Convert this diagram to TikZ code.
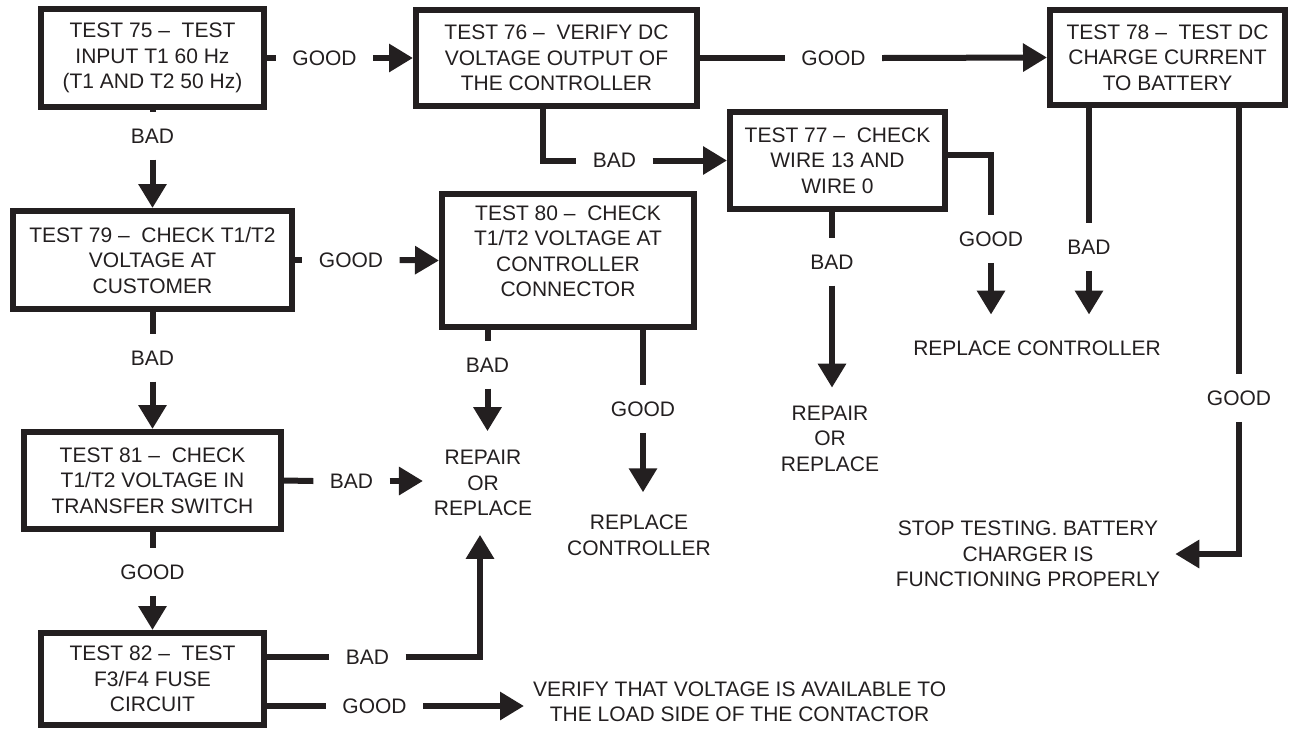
\documentclass[tikz,border=0pt]{standalone}
\usepackage{fontspec}
\setmainfont{Liberation Sans}
\usetikzlibrary{arrows.meta}
\definecolor{ink}{HTML}{231F20}
\tikzset{
  box/.style={draw, line width=6pt, align=center, inner sep=0pt},
  lbl/.style={inner sep=13.5pt},
  arr/.style={-{Triangle[length=24pt,width=27pt]}},
  every node/.style={text=ink, font=\fontsize{21}{25.5}\selectfont},
}
\begin{document}
\begin{tikzpicture}[x=1pt,y=-1pt,line width=6pt,color=ink]
\useasboundingbox (0,0) rectangle (1289,729);
\node[box,minimum width=222.5,minimum height=98] (b75) at (152.5,58) {TEST 75 –~ TEST\\INPUT T1 60 Hz\\(T1 AND T2 50 Hz)};
\node[box,minimum width=281,minimum height=96.5] (b76) at (556.5,58) {TEST 76 –~ VERIFY DC\\VOLTAGE OUTPUT OF\\THE CONTROLLER};
\node[box,minimum width=235,minimum height=95] (b78) at (1167.5,57.5) {TEST 78 –~ TEST DC\\CHARGE CURRENT\\TO BATTERY};
\node[box,minimum width=215,minimum height=97] (b77) at (837.5,160.5) {TEST 77 –~ CHECK\\WIRE 13 AND\\WIRE 0};
\node[box,minimum width=278.5,minimum height=98] (b79) at (152.5,260) {TEST 79 –~ CHECK T1/T2\\VOLTAGE AT\\CUSTOMER};
\node[box,minimum width=252,minimum height=133,text depth=19pt] (b80) at (568,260.5) {TEST 80 –~ CHECK\\T1/T2 VOLTAGE AT\\CONTROLLER\\CONNECTOR};
\node[box,minimum width=256.5,minimum height=97] (b81) at (152.5,480.5) {TEST 81 –~ CHECK\\T1/T2 VOLTAGE IN\\TRANSFER SWITCH};
\node[box,minimum width=223,minimum height=92] (b82) at (152.5,679) {TEST 82 –~ TEST\\F3/F4 FUSE\\CIRCUIT};
\node[lbl] (g1) at (324.5,58) {GOOD};
\node[lbl] (g2) at (833.5,58) {GOOD};
\node[lbl] (bad1) at (614.5,160.5) {BAD};
\node[lbl] (bad0) at (152.5,136) {BAD};
\node[lbl] (g3) at (351,260) {GOOD};
\node[lbl] (bad2) at (152.5,358) {BAD};
\node[lbl] (bad3) at (351.5,481) {BAD};
\node[lbl] (g4) at (152.5,572) {GOOD};
\node[lbl] (bad4) at (367.5,657) {BAD};
\node[lbl] (g5) at (374.5,706) {GOOD};
\node[lbl] (bad5) at (487.5,365) {BAD};
\node[lbl] (g6) at (643,409) {GOOD};
\node[lbl] (bad6) at (832,262) {BAD};
\node[lbl] (g7) at (991,239) {GOOD};
\node[lbl] (bad7) at (1089,247) {BAD};
\node[lbl] (g8) at (1239,398) {GOOD};
\node[inner xsep=8pt,inner ysep=16pt,align=center] (rep1) at (483,483) {REPAIR\\OR\\REPLACE};
\node[inner ysep=20pt,align=center] (repc1) at (639,535.5) {REPLACE\\CONTROLLER};
\node[inner ysep=15pt,align=center] (rep2) at (830,438.5) {REPAIR\\OR\\REPLACE};
\node[inner ysep=23pt] (repc2) at (1037,348) {REPLACE CONTROLLER};
\node[inner xsep=12pt,align=center] (stop) at (1028,554) {STOP TESTING. BATTERY\\CHARGER IS\\FUNCTIONING PROPERLY};
\node[inner xsep=6pt,align=center,anchor=west] (verify) at (524,702) {VERIFY THAT VOLTAGE IS AVAILABLE TO\\THE LOAD SIDE OF THE CONTACTOR};
\draw (b75.east) -- (g1.west);
\draw[arr] (g1.east) -- (b76.west);
\draw (b76.east) -- (g2.west);
\draw[arr] (g2.east) -- (b78.west);
\draw ([xshift=-13.5pt]b76.south) |- (bad1.west);
\draw[arr] (bad1.east) -- (b77.west);
\draw (b77.east) ++(0,-5.5) -| (g7.north);
\draw[arr] (g7.south) -- (g7 |- repc2.north);
\draw ([xshift=-78.5pt]b78.south) -- (bad7.north);
\draw[arr] (bad7.south) -- (bad7 |- repc2.north);
\draw ([xshift=71.5pt]b78.south) -- (g8.north);
\draw[arr] (g8.south) |- (stop.east);
\draw ([xshift=-5.5pt]b77.south) -- (bad6.north);
\draw[arr] (bad6.south) -- (bad6 |- rep2.north);
\draw (b75.south) -- (bad0.north);
\draw[arr] (bad0.south) -- (b79.north);
\draw (b79.east) -- (g3.west);
\draw[arr] (g3.east) -- (b80.west);
\draw (b79.south) -- (bad2.north);
\draw[arr] (bad2.south) -- (b81.north);
\draw (b81.east) -- (bad3.west);
\draw[arr] (bad3.east) -- (bad3.east -| rep1.west);
\draw (b81.south) -- (g4.north);
\draw[arr] (g4.south) -- (b82.north);
\draw (b82.east) ++(0,-22) -- (bad4.west);
\draw[arr] (bad4.east) -| ([xshift=-3pt]rep1.south);
\draw (b82.east) ++(0,27) -- (g5.west);
\draw[arr] (g5.east) -- (g5.east -| verify.west);
\draw ([xshift=-80.5pt]b80.south) -- (bad5.north);
\draw[arr] (bad5.south) -- (bad5 |- rep1.north);
\draw ([xshift=75pt]b80.south) -- (g6.north);
\draw[arr] (g6.south) -- (g6 |- repc1.north);
\end{tikzpicture}
\end{document}
